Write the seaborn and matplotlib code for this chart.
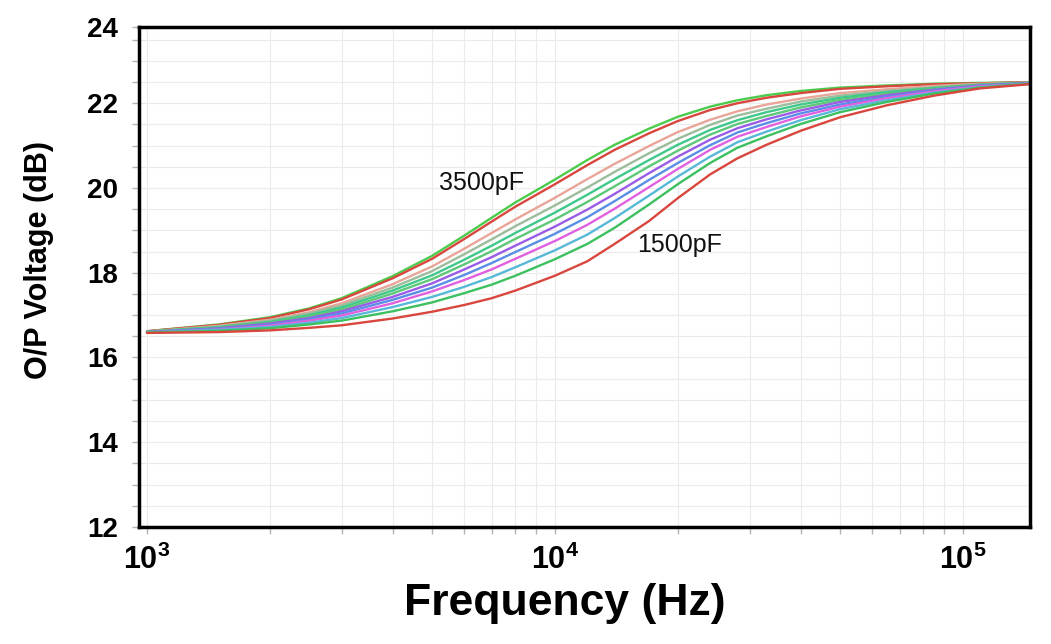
import numpy as np
import pandas as pd
import matplotlib
matplotlib.use("Agg")
import matplotlib.pyplot as plt
import seaborn as sns
from matplotlib import font_manager
from matplotlib.ticker import FixedLocator, NullFormatter, LogLocator

# ---------------- data ----------------
freq = [1000, 1500, 2000, 2500, 3000, 4000, 5000, 6000, 7000, 8000, 10000, 12000,
        14000, 17000, 20000, 24000, 28000, 33000, 40000, 50000, 65000, 85000,
        110000, 150000]

c01 = [16.62, 16.78, 16.95, 17.16, 17.40, 17.92, 18.40, 18.88, 19.30, 19.66, 20.20, 20.66,
       21.02, 21.40, 21.68, 21.92, 22.07, 22.19, 22.29, 22.37, 22.42, 22.46, 22.48, 22.50]
c02 = [16.62, 16.77, 16.93, 17.14, 17.37, 17.87, 18.33, 18.80, 19.21, 19.56, 20.09, 20.54,
       20.90, 21.29, 21.58, 21.84, 22.00, 22.13, 22.24, 22.34, 22.40, 22.45, 22.47, 22.50]
c03 = [16.61, 16.75, 16.89, 17.07, 17.28, 17.73, 18.15, 18.57, 18.94, 19.26, 19.77, 20.21,
       20.57, 20.99, 21.32, 21.61, 21.81, 21.97, 22.11, 22.24, 22.33, 22.41, 22.46, 22.49]
c04 = [16.61, 16.73, 16.87, 17.04, 17.23, 17.65, 18.04, 18.44, 18.79, 19.10, 19.59, 20.01,
       20.38, 20.82, 21.16, 21.49, 21.71, 21.87, 22.04, 22.18, 22.29, 22.38, 22.44, 22.49]
c05 = [16.61, 16.72, 16.84, 17.00, 17.18, 17.58, 17.94, 18.31, 18.64, 18.94, 19.42, 19.84,
       20.21, 20.66, 21.02, 21.37, 21.60, 21.79, 21.97, 22.13, 22.26, 22.36, 22.44, 22.49]
c06 = [16.60, 16.71, 16.82, 16.97, 17.13, 17.51, 17.85, 18.20, 18.51, 18.80, 19.26, 19.67,
       20.04, 20.51, 20.88, 21.26, 21.51, 21.70, 21.90, 22.08, 22.22, 22.34, 22.43, 22.48]
c07 = [16.60, 16.69, 16.80, 16.93, 17.09, 17.43, 17.75, 18.08, 18.37, 18.64, 19.09, 19.49,
       19.86, 20.35, 20.74, 21.14, 21.41, 21.62, 21.83, 22.03, 22.19, 22.32, 22.42, 22.48]
c08 = [16.60, 16.68, 16.77, 16.90, 17.04, 17.36, 17.65, 17.95, 18.23, 18.49, 18.92, 19.31,
       19.69, 20.19, 20.59, 21.01, 21.31, 21.53, 21.76, 21.97, 22.15, 22.30, 22.41, 22.48]
c09 = [16.59, 16.66, 16.75, 16.87, 16.99, 17.28, 17.56, 17.83, 18.08, 18.33, 18.75, 19.13,
       19.51, 20.02, 20.45, 20.90, 21.21, 21.44, 21.69, 21.92, 22.12, 22.28, 22.40, 22.47]
c10 = [16.59, 16.65, 16.72, 16.82, 16.93, 17.19, 17.43, 17.67, 17.90, 18.13, 18.53, 18.90,
       19.29, 19.82, 20.27, 20.74, 21.08, 21.33, 21.60, 21.86, 22.07, 22.25, 22.38, 22.47]
c11 = [16.59, 16.63, 16.69, 16.78, 16.87, 17.09, 17.30, 17.52, 17.72, 17.93, 18.32, 18.68,
       19.06, 19.61, 20.09, 20.59, 20.95, 21.22, 21.51, 21.79, 22.03, 22.23, 22.37, 22.47]
c12 = [16.58, 16.60, 16.64, 16.70, 16.76, 16.92, 17.08, 17.24, 17.40, 17.58, 17.93, 18.27,
       18.68, 19.22, 19.76, 20.32, 20.70, 21.02, 21.35, 21.67, 21.95, 22.18, 22.35, 22.46]

curve_names = ["C01", "C02", "C03", "C04", "C05", "C06",
               "C07", "C08", "C09", "C10", "C11", "C12"]
curve_values = [c01, c02, c03, c04, c05, c06, c07, c08, c09, c10, c11, c12]
curve_colors = ["#4ccc4c", "#d8463e", "#e9a598", "#9cbc9c", "#3ec98a", "#5cc878",
                "#9a5ce6", "#5a8ee6", "#e060e0", "#58b8d8", "#3cc060", "#d8463e"]

y_ticks = [12, 14, 16, 18, 20, 22]
x_ticks = [1e3, 1e4, 1e5]
x_tick_labels = [r"$\mathbf{10^{3}}$", r"$\mathbf{10^{4}}$", r"$\mathbf{10^{5}}$"]
annotations = [("3500pF", 6600, 20.12), ("1500pF", 20230, 18.65)]

# ---------------- fonts ----------------
sns.set_theme(style="white")
names = {f.name for f in font_manager.fontManager.ttflist}
main_font = "Liberation Sans" if "Liberation Sans" in names else "DejaVu Sans"
narrow_font = "Liberation Sans Narrow" if "Liberation Sans Narrow" in names else main_font
plt.rcParams["font.family"] = [main_font, "DejaVu Sans"]
plt.rcParams["mathtext.fontset"] = "custom"
plt.rcParams["mathtext.bf"] = f"{narrow_font}:bold"
plt.rcParams["mathtext.rm"] = narrow_font
plt.rcParams["text.color"] = "black"

# ---------------- long-form table ----------------
rows = []
for name, vals in zip(curve_names, curve_values):
    for f, v in zip(freq, vals):
        rows.append({"curve": name, "freq": f, "dB": v})
df = pd.DataFrame(rows)

fig = plt.figure(figsize=(10.51, 6.44), dpi=100)
ax = fig.add_axes([0.1323, 0.1817, 0.8477, 0.7764])

sns.lineplot(data=df, x="freq", y="dB", hue="curve", hue_order=curve_names,
             palette=dict(zip(curve_names, curve_colors)), linewidth=1.7,
             legend=False, ax=ax, sort=True, estimator=None)

ax.set_xscale("log")
ax.set_xlim(956, 146000)
ax.set_ylim(12, 23.8)

# grid
ax.yaxis.set_minor_locator(FixedLocator(np.arange(12, 23.6, 0.5)))
ax.xaxis.set_minor_locator(LogLocator(base=10, subs=np.arange(2, 10)))
ax.xaxis.set_minor_formatter(NullFormatter())
ax.grid(True, which="both", color="#ebebeb", linewidth=0.8)
ax.set_axisbelow(True)

ax.set_yticks(y_ticks + [23.8])
ax.set_yticklabels([str(t) for t in y_ticks] + ["24"])
ax.set_xticks(x_ticks)
ax.set_xticklabels(x_tick_labels)

ax.tick_params(axis="y", which="both", left=True, length=5, width=1, color="#b5b5b5",
               pad=10, labelsize=20, labelcolor="black")
ax.tick_params(axis="x", which="both", bottom=True, length=5, width=1, color="#b5b5b5",
               pad=8, labelsize=22, labelcolor="black")
for lab in ax.get_yticklabels():
    lab.set_fontweight("bold")

for sp in ax.spines.values():
    sp.set_color("black")
    sp.set_linewidth(2.5)
    sp.set_visible(True)

ax.set_ylabel("O/P Voltage (dB)", fontsize=22, fontweight="bold", color="black")
ax.yaxis.set_label_coords(-0.095, 0.534)
ax.set_xlabel("Frequency (Hz)", fontsize=32, fontweight="bold", color="black",
              family=[narrow_font, "DejaVu Sans"])
ax.xaxis.set_label_coords(0.478, -0.112)

for text, x, y in annotations:
    ax.text(x, y, text, fontsize=18, color="#111111", ha="center", va="center")

fig.savefig("out.png", dpi=100)
